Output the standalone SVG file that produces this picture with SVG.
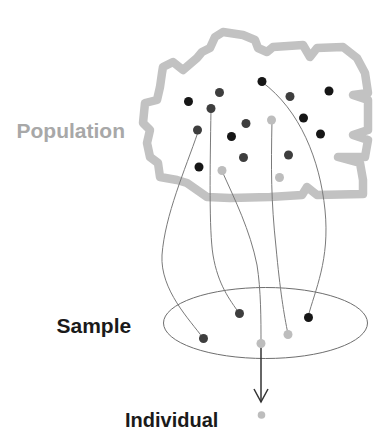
<svg xmlns="http://www.w3.org/2000/svg" width="385" height="447" viewBox="0 0 385 447">
  <style>
    .label { font-family: "Liberation Sans", Arial, sans-serif; font-weight: bold; }
    .blob { fill: none; stroke: #c2c2c2; stroke-width: 8.5; stroke-linejoin: round; stroke-linecap: round; }
    .link { fill: none; stroke: #7a7a7a; stroke-width: 1; }
    .dk { fill: #161616; }
    .md { fill: #3e3e3e; }
    .lt { fill: #bdbdbd; }
  </style>
  <defs>
    <marker id="vee" viewBox="0 0 16 16" refX="14" refY="8" markerWidth="16" markerHeight="16" markerUnits="userSpaceOnUse" orient="auto">
      <path d="M1,1 L14,8 L1,15" fill="none" stroke="#333" stroke-width="1.5"/>
    </marker>
  </defs>
  <rect width="385" height="447" fill="#ffffff"/>

  <!-- population outline -->
  <g id="population">
    <path class="blob" d="M162,73 L163,67 L173,62 L183,70 L197,58 L202,52 L210,48 L215,37 L223,32 L243,35 L255,40 L258,48 L267,52 L273,47 L303,45 L310,57 L317,48 L343,47 L357,58 L365,73 L368,93 L353,95 L368,100 L368,130 L353,135 L368,140 L365,157 L338,157 L360,163 L363,180 L363,194 L317,195 L307,187 L302,195 L270,197 L230,198 L207,197 L197,190 L187,183 L177,180 L160,177 L158,163 L150,157 L147,143 L150,130 L143,123 L145,103 L157,100 L160,87 Z"/>
    <text class="label" x="16.5" y="137.5" font-size="21" fill="#a8a8a8">Population</text>
  </g>

  <!-- sample set -->
  <g id="sample">
    <ellipse cx="265.5" cy="323" rx="102" ry="35.5" fill="none" stroke="#6e6e6e" stroke-width="1"/>
    <text class="label" x="56.5" y="332.5" font-size="21" fill="#1a1a1a">Sample</text>
  </g>

  <!-- draws from population to sample, and the chosen individual -->
  <g id="connectors">
    <path class="link" d="M198,132 C185,170 165,215 162,255 C160,290 190,320 203,338"/>
    <path class="link" d="M211,109 C210,170 209,230 213,255 C218,285 230,300 239,313"/>
    <path class="link" d="M222,171 C235,200 250,230 257,265 C261,290 261,320 261,343"/>
    <path class="link" d="M272,120 C271,170 271,200 276,247 C280,290 284,315 288,334"/>
    <path class="link" d="M262,82 C300,110 320,160 325,210 C330,260 315,290 308,317"/>
    <line x1="261" y1="343" x2="261" y2="402" stroke="#333" stroke-width="1.5" marker-end="url(#vee)"/>
  </g>

  <!-- population members -->
  <g id="members">
    <circle class="dk" cx="262" cy="81.5" r="4.5"/>
    <circle class="md" cx="219.5" cy="92.5" r="4.5"/>
    <circle class="dk" cx="188.5" cy="101.5" r="4.5"/>
    <circle class="md" cx="211" cy="108.5" r="4.5"/>
    <circle class="md" cx="290" cy="96.5" r="4.5"/>
    <circle class="dk" cx="329" cy="91" r="4.5"/>
    <circle class="dk" cx="303.5" cy="118" r="4.5"/>
    <circle class="lt" cx="271.5" cy="120" r="4.5"/>
    <circle class="md" cx="246" cy="123.5" r="4.5"/>
    <circle class="md" cx="197.5" cy="130" r="4.5"/>
    <circle class="dk" cx="231.5" cy="136.5" r="4.5"/>
    <circle class="dk" cx="320.5" cy="134" r="4.5"/>
    <circle class="md" cx="243.5" cy="157.5" r="4.5"/>
    <circle class="md" cx="288.5" cy="155" r="4.5"/>
    <circle class="dk" cx="199" cy="167" r="4.5"/>
    <circle class="lt" cx="222" cy="170.5" r="4.5"/>
    <circle class="lt" cx="279.5" cy="177.5" r="4.5"/>
  </g>

  <!-- sample members -->
  <g id="sample-members">
    <circle class="md" cx="203.5" cy="338.5" r="4.5"/>
    <circle class="md" cx="239.5" cy="313.5" r="4.5"/>
    <circle class="lt" cx="261" cy="343.5" r="4.5"/>
    <circle class="lt" cx="288" cy="334.5" r="4.5"/>
    <circle class="dk" cx="308.5" cy="317.5" r="4.5"/>
  </g>

  <!-- individual -->
  <g id="individual">
    <circle class="lt" cx="261.5" cy="415" r="3.8"/>
    <text class="label" x="125" y="426.5" font-size="20" fill="#1a1a1a">Individual</text>
  </g>
</svg>
